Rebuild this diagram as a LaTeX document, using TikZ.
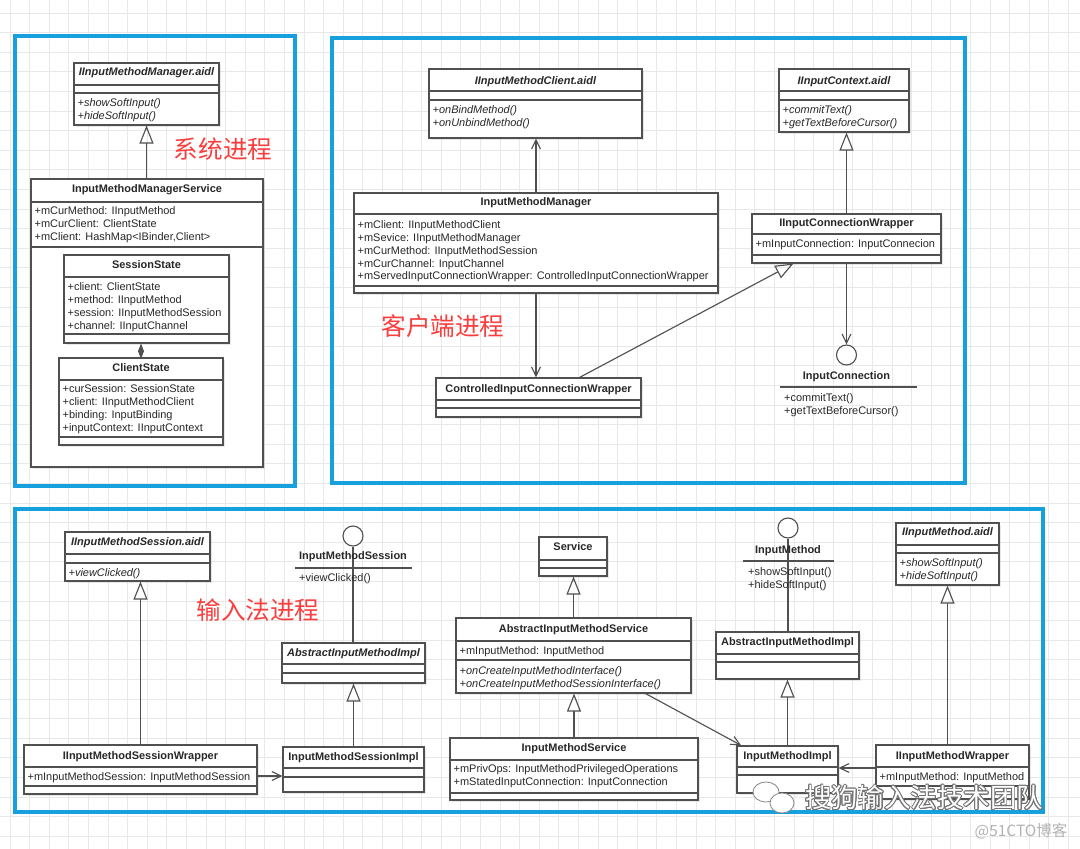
\documentclass[tikz,border=0pt]{standalone}
\usepackage{fontspec}
\setmainfont{Liberation Sans}
\newfontfamily\cjkfont{Noto Sans CJK SC}
\usepackage{contour}
\contourlength{0.6pt}
\usetikzlibrary{arrows.meta,fit,shadows}

\definecolor{frameblue}{RGB}{22,160,222}
\definecolor{labelred}{RGB}{250,62,62}
\definecolor{umlline}{RGB}{80,80,80}
\definecolor{umltext}{RGB}{40,40,40}

\tikzset{
  gridline/.style={draw=black!9, line width=0.5pt},
  frame/.style={draw=frameblue, line width=2.2pt},
  umlbox/.style={draw=umlline, line width=0.8pt, fill=white, inner sep=0pt,
    drop shadow={opacity=0.18, shadow xshift=1.2pt, shadow yshift=-1.2pt}},
  sepline/.style={draw=umlline, line width=0.8pt},
  ctitle/.style={font=\fontsize{7.8}{9.2}\selectfont\bfseries, text=umltext,
    inner sep=0pt, text height=5.6pt, text depth=1.6pt},
  ctitleit/.style={ctitle, font=\fontsize{7.8}{9.2}\selectfont\bfseries\itshape},
  crows/.style={font=\fontsize{7.8}{9.2}\selectfont, text=umltext, align=left,
    anchor=north west, inner sep=0pt, xshift=2.8pt},
  cmeth/.style={crows, font=\fontsize{7.8}{9.2}\selectfont\itshape},
  iface/.style={circle, draw=umlline, line width=0.8pt, fill=white,
    minimum size=5mm, inner sep=0pt},
  inherit/.style={draw=umlline, line width=0.8pt,
    -{Triangle[open, length=4.5mm, width=3.5mm]}},
  depend/.style={draw=umlline, line width=0.8pt,
    -{Straight Barb[length=2.3mm, width=2.2mm]}},
  compose/.style={draw=umlline, line width=0.8pt,
    -{Diamond[length=3.8mm, width=1.5mm]}},
  link/.style={draw=umlline, line width=0.8pt},
  proclabel/.style={font=\cjkfont\fontsize{17.5}{20}\selectfont, text=labelred, inner sep=0pt},
}

% class box: name, x1, y1, x2, y2
\newcommand{\umlclass}[5]{\node[umlbox, fit={(#2,#3) (#4,#5)}] (#1) {};}
\newcommand{\umlsep}[2]{\draw[sepline] (#1.west |- 0,#2) -- (#1.east |- 0,#2);}
\newcommand{\umltitle}[4][ctitle]{\node[#1] (#2-t) at (#2.center |- 0,#3) {#4};}
\newcommand{\umlrows}[5][crows]{\node[#1] (#2-#3) at (#2.west |- 0,#4) {#5};}

\begin{document}
\begin{tikzpicture}[x=0.025cm, y=-0.025cm]
\useasboundingbox (0,0) rectangle (1080,849);
\fill[white] (0,0) rectangle (1080,849);

% background grid
\foreach \k in {0,...,54} \draw[gridline] ({10+19.6*\k},0) -- ({10+19.6*\k},849);
\foreach \k in {0,...,42} \draw[gridline] (0,{13+19.6*\k}) -- (1080,{13+19.6*\k});

% process frames
\draw[frame] (15,36) rectangle (295,486);
\draw[frame] (332,38) rectangle (965,483);
\draw[frame] (15,509) rectangle (1043,812);

\node[proclabel] (sysLbl) at (223,149) {系统进程};
\node[proclabel] (cliLbl) at (443,326) {客户端进程};
\node[proclabel] (imeLbl) at (258,610) {输入法进程};

%% system process
\umlclass{aidlMgr}{74}{63}{219}{125}
\umltitle[ctitleit]{aidlMgr}{73}{IInputMethodManager.aidl}
\umlsep{aidlMgr}{85} \umlsep{aidlMgr}{93}
\umlrows[cmeth]{aidlMgr}{m}{98}{+showSoftInput()\\+hideSoftInput()}

\umlclass{imms}{31}{179}{263}{467}
\umltitle{imms}{190}{InputMethodManagerService}
\umlsep{imms}{202}
\umlrows{imms}{a}{206}{+mCurMethod: IInputMethod\\+mCurClient: ClientState\\+mClient: HashMap<IBinder,Client>}
\umlsep{imms}{247}

\umlclass{sessState}{64}{255}{229}{343}
\umltitle{sessState}{266}{SessionState}
\umlsep{sessState}{277}
\umlrows{sessState}{a}{282}{+client: ClientState\\+method: IInputMethod\\+session: IInputMethodSession\\+channel: IInputChannel}
\umlsep{sessState}{334}

\umlclass{clientState}{59}{358}{223}{445}
\umltitle{clientState}{369}{ClientState}
\umlsep{clientState}{380}
\umlrows{clientState}{a}{384}{+curSession: SessionState\\+client: IInputMethodClient\\+binding: InputBinding\\+inputContext: IInputContext}
\umlsep{clientState}{437}

\draw[inherit] (imms.north -| aidlMgr.south) -- (aidlMgr.south);
\draw[compose] (clientState.north) -- (clientState.north |- sessState.south);

%% client process
\umlclass{aidlClient}{429}{69}{642}{138}
\umltitle[ctitleit]{aidlClient}{82}{IInputMethodClient.aidl}
\umlsep{aidlClient}{91} \umlsep{aidlClient}{100}
\umlrows[cmeth]{aidlClient}{m}{105}{+onBindMethod()\\+onUnbindMethod()}

\umlclass{imm}{354}{193}{718}{293}
\umltitle{imm}{203}{InputMethodManager}
\umlsep{imm}{214}
\umlrows{imm}{a}{220}{+mClient: IInputMethodClient\\+mSevice: IInputMethodManager\\+mCurMethod: IInputMethodSession\\+mCurChannel: InputChannel\\+mServedInputConnectionWrapper: ControlledInputConnectionWrapper}
\umlsep{imm}{286}

\umlclass{aidlCtx}{779}{69}{909}{132}
\umltitle[ctitleit]{aidlCtx}{82}{IInputContext.aidl}
\umlsep{aidlCtx}{91} \umlsep{aidlCtx}{100}
\umlrows[cmeth]{aidlCtx}{m}{105}{+commitText()\\+getTextBeforeCursor()}

\umlclass{icw}{752}{214}{941}{263}
\umltitle{icw}{224}{IInputConnectionWrapper}
\umlsep{icw}{234}
\umlrows{icw}{a}{239}{+mInputConnection: InputConnecion}
\umlsep{icw}{255}

\umlclass{cicw}{436}{378}{641}{417}
\umltitle{cicw}{390}{ControlledInputConnectionWrapper}
\umlsep{cicw}{400} \umlsep{cicw}{408}

\node[iface] (inConn) at (846.5,355) {};
\node[ctitle] (inConn-t) at (inConn |- 0,377) {InputConnection};
\draw[sepline] (780,387) -- (917,387);
\node[crows] (inConn-m) at (780,393) {+commitText()\\+getTextBeforeCursor()};

\draw[depend] (imm.north) -- (imm.north |- aidlClient.south);
\draw[inherit] (icw.north) -- (icw.north |- aidlCtx.south);
\draw[depend] (imm.south) -- (imm.south |- cicw.north);
\draw[inherit] ([xshift=-1.55cm]cicw.north east) -- ([xshift=1.05cm]icw.south west);
\draw[depend] (icw.south) -- (inConn.north);

%% input method process
\umlclass{aidlSess}{65}{532}{210}{581}
\umltitle[ctitleit]{aidlSess}{543}{IInputMethodSession.aidl}
\umlsep{aidlSess}{554} \umlsep{aidlSess}{563}
\umlrows[cmeth]{aidlSess}{m}{568}{+viewClicked()}

\node[iface] (imSessIf) at (353,536) {};
\draw[link] (imSessIf.south) -- (353,643);
\node[ctitle] (imSessIf-t) at (imSessIf |- 0,557) {InputMethodSession};
\draw[sepline] (295,568) -- (412,568);
\node[crows] (imSessIf-m) at (295,573) {+viewClicked()};

\umlclass{absImplL}{282}{643}{425}{683}
\umltitle[ctitleit]{absImplL}{654}{AbstractInputMethodImpl}
\umlsep{absImplL}{664} \umlsep{absImplL}{673}

\umlclass{iimsw}{24}{745}{257}{794}
\umltitle{iimsw}{757}{IInputMethodSessionWrapper}
\umlsep{iimsw}{767}
\umlrows{iimsw}{a}{772}{+mInputMethodSession: InputMethodSession}
\umlsep{iimsw}{786}

\umlclass{imSessImpl}{283}{747}{424}{792}
\umltitle{imSessImpl}{758}{InputMethodSessionImpl}
\umlsep{imSessImpl}{768} \umlsep{imSessImpl}{777}

\umlclass{service}{539}{537}{607}{576}
\umltitle{service}{548}{Service}
\umlsep{service}{560} \umlsep{service}{568}

\umlclass{aims}{456}{618}{691}{693}
\umltitle{aims}{630}{AbstractInputMethodService}
\umlsep{aims}{641}
\umlrows{aims}{a}{646}{+mInputMethod: InputMethod}
\umlsep{aims}{660}
\umlrows[cmeth]{aims}{m}{666}{+onCreateInputMethodInterface()\\+onCreateInputMethodSessionInterface()}

\umlclass{ims}{450}{738}{698}{800}
\umltitle{ims}{749}{InputMethodService}
\umlsep{ims}{760}
\umlrows{ims}{a}{764}{+mPrivOps: InputMethodPrivilegedOperations\\+mStatedInputConnection: InputConnection}
\umlsep{ims}{793}

\node[iface] (imIf) at (788,528) {};
\draw[link] (imIf.south) -- (788,632);
\node[ctitle] (imIf-t) at (imIf |- 0,551) {InputMethod};
\draw[sepline] (743,561) -- (834,561);
\node[crows] (imIf-m) at (744,567) {+showSoftInput()\\+hideSoftInput()};

\umlclass{absImplR}{716}{632}{859}{679}
\umltitle{absImplR}{643}{AbstractInputMethodImpl}
\umlsep{absImplR}{654} \umlsep{absImplR}{662}

\umlclass{imImpl}{737}{746}{838}{793}
\umltitle{imImpl}{757}{InputMethodImpl}
\umlsep{imImpl}{767} \umlsep{imImpl}{775}

\umlclass{aidlIm}{896}{523}{999}{585}
\umltitle[ctitleit]{aidlIm}{533}{IInputMethod.aidl}
\umlsep{aidlIm}{545} \umlsep{aidlIm}{553}
\umlrows[cmeth]{aidlIm}{m}{558}{+showSoftInput()\\+hideSoftInput()}

\umlclass{iimw}{876}{745}{1029}{799}
\umltitle{iimw}{757}{IInputMethodWrapper}
\umlsep{iimw}{767}
\umlrows{iimw}{a}{772}{+mInputMethod: InputMethod}
\umlsep{iimw}{786}

\draw[inherit] (iimsw.north) -- (iimsw.north |- aidlSess.south);
\draw[inherit] (imSessImpl.north) -- (imSessImpl.north |- absImplL.south);
\draw[depend] (iimsw.east |- 0,776) -- (imSessImpl.west |- 0,776);
\draw[inherit] (aims.north) -- (aims.north |- service.south);
\draw[inherit] (ims.north) -- (ims.north |- aims.south);
\draw[depend] ([xshift=-1.15cm]aims.south east) -- ([xshift=1.2mm]imImpl.north west);
\draw[inherit] (imImpl.north) -- (imImpl.north |- absImplR.south);
\draw[inherit] (aidlIm.south |- iimw.north) -- (aidlIm.south);
\draw[depend] (iimw.west |- 0,768) -- (imImpl.east |- 0,768);

% watermark
\draw[black!45, fill=white, line width=0.6pt] (766,792) ellipse (13 and 10);
\draw[black!45, fill=white, line width=0.6pt] (782,803) ellipse (12 and 10);
\node[font=\cjkfont\fontsize{18.8}{20}\selectfont, text=white, inner sep=0pt] (wmLbl) at (924,798) {\contour{black!55}{搜狗输入法技术团队}};
\node[font=\cjkfont\fontsize{11}{12}\selectfont, text=black!30, inner sep=0pt] (siteLbl) at (1021,831) {@51CTO博客};
\end{tikzpicture}
\end{document}
